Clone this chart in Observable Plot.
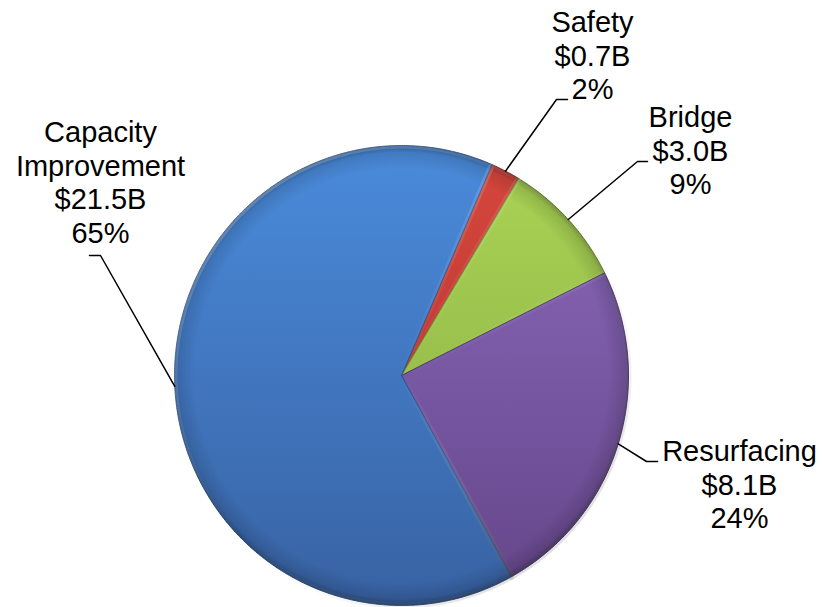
<!DOCTYPE html>
<html><head><meta charset="utf-8">
<script src="https://cdn.jsdelivr.net/npm/d3@7"></script>
<script src="https://cdn.jsdelivr.net/npm/@observablehq/plot@0.6"></script>
<style>html,body{margin:0;padding:0;background:#fff}svg{display:block}</style>
</head><body><div id="chart"></div>
<script>
// ---- data ----
const categories = ["Safety", "Bridge", "Resurfacing", "Capacity Improvement"];
const labelNames = ["Safety", "Bridge", "Resurfacing", "Capacity\nImprovement"];
const values = [0.7, 3.0, 8.1, 21.5]; // billions of dollars

// ---- styles ----
const topColors = ["#d7473d", "#aad455", "#8c69bd", "#4a8bdb"];
const bottomColors = ["#a8302a", "#88ab42", "#644689", "#3862a3"];
const edgeColors = ["#8a2620", "#6f8c34", "#4f3770", "#2d5288"];

// ---- layout ----
const W = 822, H = 607;
const cx = 401, cy = 375, rx = 227, ry = 230;
const startDeg = 23.5;
const labelLayout = [
  {x: 592, y: 8, elbow: [556, 99], end: [567, 99]},
  {x: 690, y: 103, elbow: [637, 161], end: [647, 161]},
  {x: 739, y: 437, elbow: [646, 461], end: [657, 461]},
  {x: 100, y: 118, elbow: [100, 255], end: [89, 255]}
];

const total = d3.sum(values);
const data = categories.map((c, i) => ({category: c, value: values[i], i}));
const start = startDeg * Math.PI / 180;
const arcs = d3.pie().sort(null).value(d => d.value).startAngle(start).endAngle(start + 2 * Math.PI)(data);

const pt = (a, k = 1) => ({x: cx + k * rx * Math.sin(a), y: cy - k * ry * Math.cos(a)});

const slicePolys = arcs.map(a => {
  const pts = [{x: cx, y: cy}];
  const n = Math.max(4, Math.ceil((a.endAngle - a.startAngle) / (Math.PI / 360)));
  for (let k = 0; k <= n; k++) pts.push(pt(a.startAngle + (a.endAngle - a.startAngle) * k / n));
  pts.push({x: cx, y: cy});
  return pts;
});

const circle = d3.range(0, 721).map(k => pt(k * Math.PI / 360));

const labels = arcs.map((a, i) => ({
  x: labelLayout[i].x, y: labelLayout[i].y,
  text: `${labelNames[i]}\n$${values[i].toFixed(1)}B\n${Math.round(values[i] / total * 100)}%`
}));

const leaders = arcs.map((a, i) => {
  const mid = (a.startAngle + a.endAngle) / 2;
  const s = pt(mid);
  const L = labelLayout[i];
  return [s, {x: L.elbow[0], y: L.elbow[1]}, {x: L.end[0], y: L.end[1]}];
});

const marks = [];
slicePolys.forEach((p, i) => {
  marks.push(Plot.line(p, {x: "x", y: "y", fill: `url(#slice${i})`, stroke: edgeColors[i], strokeWidth: 1, strokeLinejoin: "round"}));
});
marks.push(Plot.line(circle, {x: "x", y: "y", fill: "url(#rim)", stroke: "none"}));
slicePolys.forEach((p, i) => {
  marks.push(Plot.line(p, {x: "x", y: "y", fill: "none", stroke: "url(#bevel)", strokeWidth: 6, strokeOpacity: 0.6, strokeLinejoin: "round"}));
});
leaders.forEach(l => marks.push(Plot.line(l, {x: "x", y: "y", stroke: "black", strokeWidth: 1.5})));
marks.push(Plot.text(labels, {
  x: "x", y: "y", text: "text", fontSize: 29, fontFamily: "'Liberation Sans', Arial, sans-serif",
  lineHeight: 1.155, lineAnchor: "top", textAnchor: "middle", fill: "black"
}));

const svg = Plot.plot({
  width: W, height: H, margin: 0,
  x: {domain: [0, W], range: [0, W], axis: null},
  y: {domain: [0, H], range: [0, H], axis: null},
  style: {background: "white", overflow: "visible"},
  marks
});

const defs = d3.select(svg).insert("defs", ":first-child");
topColors.forEach((c, i) => {
  const g = defs.append("linearGradient").attr("id", `slice${i}`)
    .attr("gradientUnits", "userSpaceOnUse")
    .attr("x1", cx).attr("y1", cy - ry).attr("x2", cx).attr("y2", cy + ry);
  g.append("stop").attr("offset", 0).attr("stop-color", c);
  g.append("stop").attr("offset", 1).attr("stop-color", bottomColors[i]);
});
const rim = defs.append("radialGradient").attr("id", "rim")
  .attr("gradientUnits", "userSpaceOnUse").attr("cx", cx).attr("cy", cy).attr("r", ry);
rim.append("stop").attr("offset", 0.9).attr("stop-color", "#000").attr("stop-opacity", 0);
rim.append("stop").attr("offset", 0.97).attr("stop-color", "#000").attr("stop-opacity", 0.12);
rim.append("stop").attr("offset", 1).attr("stop-color", "#000").attr("stop-opacity", 0.35);
const bevel = defs.append("linearGradient").attr("id", "bevel")
  .attr("gradientUnits", "userSpaceOnUse")
  .attr("x1", cx - rx).attr("y1", cy - ry).attr("x2", cx + rx).attr("y2", cy + ry);
bevel.append("stop").attr("offset", 0).attr("stop-color", "#fff").attr("stop-opacity", 0.5);
bevel.append("stop").attr("offset", 0.5).attr("stop-color", "#fff").attr("stop-opacity", 0);
bevel.append("stop").attr("offset", 1).attr("stop-color", "#000").attr("stop-opacity", 0.4);

document.getElementById("chart").appendChild(svg);
</script>
</body></html>
